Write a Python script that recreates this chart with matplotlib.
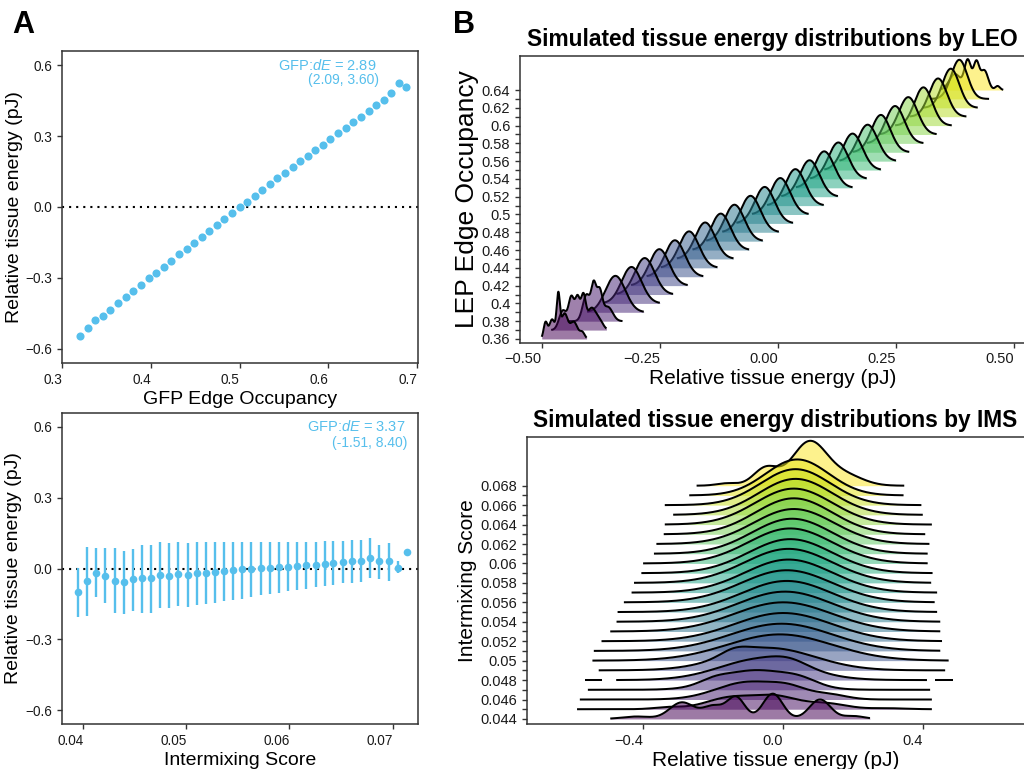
import numpy as np
import matplotlib
matplotlib.use("Agg")
import matplotlib.pyplot as plt

plt.rcParams['font.family'] = ['Liberation Sans', 'DejaVu Sans']
plt.rcParams['mathtext.fontset'] = 'custom'
plt.rcParams['mathtext.rm'] = 'Liberation Sans'
plt.rcParams['mathtext.it'] = 'Liberation Sans:italic'

# ---------------- Panel A (top): energy vs GFP edge occupancy ----------------
gfp_leo = [0.3199, 0.3289, 0.3375, 0.3461, 0.3544, 0.3630, 0.3716, 0.3802, 0.3889,
           0.3975, 0.4061, 0.4144, 0.4230, 0.4316, 0.4402, 0.4489, 0.4571, 0.4657,
           0.4744, 0.4826, 0.4912, 0.4999, 0.5085, 0.5171, 0.5254, 0.5340, 0.5426,
           0.5512, 0.5598, 0.5681, 0.5767, 0.5853, 0.5940, 0.6022, 0.6108, 0.6194,
           0.6281, 0.6367, 0.6453, 0.6536, 0.6622, 0.6708, 0.6794, 0.6877]
energy_leo = [-0.548, -0.511, -0.477, -0.463, -0.435, -0.407, -0.380, -0.356, -0.329,
              -0.302, -0.278, -0.253, -0.227, -0.200, -0.176, -0.151, -0.126, -0.100,
              -0.075, -0.051, -0.025, -0.001, 0.023, 0.048, 0.073, 0.097, 0.121,
              0.145, 0.171, 0.193, 0.217, 0.240, 0.264, 0.288, 0.312, 0.335,
              0.359, 0.383, 0.407, 0.431, 0.455, 0.483, 0.525, 0.510]
leo_effect = ["GFP:$\\mathit{dE}$ = 2.89", "(2.09, 3.60)"]

# ---------------- Panel A (bottom): energy vs intermixing score ----------------
gfp_ims = [0.03949, 0.04039, 0.04127, 0.04214, 0.04305, 0.04392, 0.04479, 0.04570,
           0.04657, 0.04745, 0.04835, 0.04923, 0.05013, 0.05101, 0.05188, 0.05279,
           0.05366, 0.05453, 0.05544, 0.05631, 0.05719, 0.05809, 0.05897, 0.05987,
           0.06075, 0.06162, 0.06253, 0.06340, 0.06427, 0.06518, 0.06606, 0.06693,
           0.06783, 0.06871, 0.06962, 0.07052, 0.07140]
energy_ims = [-0.100, -0.053, -0.018, -0.030, -0.051, -0.058, -0.046, -0.042, -0.042,
              -0.028, -0.030, -0.023, -0.028, -0.021, -0.017, -0.014, -0.010, -0.007,
              -0.004, -0.003, 0.001, 0.004, 0.006, 0.008, 0.011, 0.013, 0.015,
              0.020, 0.023, 0.028, 0.030, 0.032, 0.045, 0.031, 0.030, 0.004, 0.069]
energy_ims_lo = [-0.204, -0.201, -0.122, -0.145, -0.190, -0.191, -0.180, -0.187, -0.187,
                 -0.165, -0.165, -0.159, -0.163, -0.156, -0.150, -0.145, -0.139, -0.134,
                 -0.127, -0.120, -0.114, -0.108, -0.104, -0.096, -0.090, -0.085, -0.079,
                 -0.075, -0.068, -0.062, -0.062, -0.055, -0.041, -0.045, -0.052, -0.018, 0.069]
energy_ims_hi = [0.003, 0.092, 0.086, 0.087, 0.087, 0.076, 0.084, 0.101, 0.100,
                 0.110, 0.106, 0.113, 0.107, 0.113, 0.113, 0.113, 0.114, 0.114,
                 0.114, 0.114, 0.113, 0.113, 0.113, 0.113, 0.113, 0.113, 0.113,
                 0.115, 0.115, 0.118, 0.120, 0.121, 0.131, 0.100, 0.108, 0.032, 0.069]
ims_effect = ["GFP:$\\mathit{dE}$ = 3.37", "(-1.51, 8.40)"]

# ---------------- Panel B (top): ridgelines by LEO ----------------
leo_levels = [0.36, 0.37, 0.38, 0.39, 0.40, 0.41, 0.42, 0.43, 0.44, 0.45,
              0.46, 0.47, 0.48, 0.49, 0.50, 0.51, 0.52, 0.53, 0.54, 0.55,
              0.56, 0.57, 0.58, 0.59, 0.60, 0.61, 0.62, 0.63, 0.64]
leo_center = [-0.465, -0.423, -0.389, -0.344, -0.310, -0.282, -0.251, -0.218, -0.188, -0.154,
              -0.121, -0.092, -0.058, -0.028, 0.005, 0.037, 0.067, 0.098, 0.128, 0.158,
              0.190, 0.218, 0.248, 0.276, 0.308, 0.339, 0.366, 0.384, 0.405]
leo_spread = [0.021, 0.021, 0.021, 0.021, 0.021, 0.021, 0.021, 0.021, 0.021, 0.021,
              0.021, 0.021, 0.021, 0.021, 0.021, 0.021, 0.021, 0.021, 0.021, 0.021,
              0.021, 0.020, 0.020, 0.020, 0.019, 0.019, 0.018, 0.017, 0.016]
leo_height = [4.1, 4.1, 4.1, 4.1, 4.1, 4.1, 4.1, 4.1, 4.1, 4.1,
              4.1, 4.1, 4.1, 4.1, 4.1, 4.1, 4.1, 4.1, 4.1, 4.1,
              4.1, 4.2, 4.2, 4.2, 4.3, 4.3, 4.4, 4.4, 4.4]
leo_lo = [-0.500, -0.480, -0.445, -0.404, -0.370, -0.342, -0.311, -0.278, -0.248, -0.214,
          -0.181, -0.152, -0.118, -0.088, -0.055, -0.023, 0.007, 0.038, 0.068, 0.098,
          0.130, 0.158, 0.188, 0.216, 0.248, 0.279, 0.306, 0.324, 0.345]
leo_hi = [-0.405, -0.363, -0.329, -0.284, -0.250, -0.222, -0.191, -0.158, -0.128, -0.094,
          -0.061, -0.032, 0.002, 0.032, 0.065, 0.097, 0.127, 0.158, 0.188, 0.218,
          0.250, 0.278, 0.308, 0.336, 0.368, 0.399, 0.423, 0.447, 0.477]
# ridges whose density is multi-peaked: (centre, spread, height) bumps
leo_bumps = {
    0.36: [(-0.492, 0.004, 1.8), (-0.478, 0.006, 2.2), (-0.465, 0.0035, 4.6),
           (-0.452, 0.007, 2.8), (-0.432, 0.008, 1.9), (-0.414, 0.005, 0.7)],
    0.37: [(-0.455, 0.008, 2.2), (-0.437, 0.006, 3.6), (-0.424, 0.005, 3.4),
           (-0.412, 0.005, 3.6), (-0.395, 0.009, 2.4), (-0.378, 0.008, 1.0)],
    0.38: [(-0.405, 0.008, 3.0), (-0.390, 0.005, 3.6), (-0.378, 0.006, 3.3),
           (-0.360, 0.010, 1.6)],
    0.64: [(0.375, 0.012, 1.8), (0.402, 0.007, 3.3), (0.420, 0.006, 3.0),
           (0.437, 0.008, 2.2), (0.465, 0.005, 0.45)],
}

# ---------------- Panel B (bottom): ridgelines by IMS ----------------
ims_levels = [0.044, 0.045, 0.046, 0.047, 0.048, 0.049, 0.050, 0.051, 0.052,
              0.053, 0.054, 0.055, 0.056, 0.057, 0.058, 0.059, 0.060, 0.061,
              0.062, 0.063, 0.064, 0.065, 0.066, 0.067, 0.068]
ims_center = [0.0, -0.05, -0.06, -0.05, -0.04, -0.03, -0.01, -0.005, 0.0,
              0.0, 0.005, 0.01, 0.01, 0.015, 0.015, 0.02, 0.02, 0.025,
              0.03, 0.03, 0.03, 0.035, 0.035, 0.04, 0.075]
ims_spread = [0.1, 0.1, 0.1, 0.11, 0.12, 0.13, 0.15, 0.145, 0.14,
              0.14, 0.135, 0.13, 0.13, 0.125, 0.125, 0.12, 0.12, 0.115,
              0.115, 0.11, 0.11, 0.105, 0.10, 0.09, 0.05]
ims_height = [2.0, 2.0, 2.0, 2.2, 2.4, 2.6, 2.7, 2.8, 2.9,
              3.0, 3.1, 3.2, 3.3, 3.4, 3.5, 3.5, 3.6, 3.6,
              3.6, 3.7, 3.7, 3.7, 3.7, 3.7, 4.5]
ims_lo = [-0.495, -0.590, -0.582, -0.559, -0.478, -0.528, -0.546, -0.542, -0.520,
          -0.495, -0.477, -0.474, -0.456, -0.434, -0.427, -0.406, -0.401, -0.370,
          -0.363, -0.342, -0.339, -0.315, -0.339, -0.269, -0.248]
ims_hi = [0.248, 0.425, 0.425, 0.420, 0.411, 0.463, 0.473, 0.449, 0.454,
          0.449, 0.449, 0.440, 0.433, 0.440, 0.423, 0.427, 0.413, 0.413,
          0.418, 0.406, 0.425, 0.399, 0.395, 0.344, 0.346]
# detached tail pieces of a ridge
ims_pieces = {0.048: [(-0.567, -0.519), (0.433, 0.485)]}
ims_bumps = {
    0.044: [(-0.42, 0.04, 0.25), (-0.29, 0.035, 1.7), (-0.20, 0.03, 1.3),
            (-0.135, 0.025, 2.2), (-0.03, 0.028, 2.6), (0.105, 0.03, 2.0),
            (0.20, 0.03, 0.3)],
    0.045: [(-0.33, 0.04, 0.2), (-0.15, 0.07, 1.2), (-0.02, 0.06, 1.2),
            (0.12, 0.06, 0.6), (0.30, 0.05, 0.1)],
    0.046: [(-0.10, 0.09, 1.8), (0.02, 0.05, 0.8), (0.13, 0.05, 0.5)],
    0.047: [(-0.20, 0.04, 0.4), (-0.08, 0.10, 2.0), (0.05, 0.05, 0.6)],
    0.048: [(-0.06, 0.12, 2.2), (0.02, 0.05, 0.5)],
    0.049: [(-0.04, 0.13, 2.3), (-0.14, 0.04, 0.6)],
    0.068: [(0.075, 0.05, 4.5), (-0.05, 0.035, 1.8), (0.18, 0.05, 1.0),
            (-0.16, 0.03, 0.25)],
}

RIDGE_LINE = 1.45
RIDGE_ALPHA = 0.52
POINT_COLOR = '#56BFEC'
SPINE_COLOR = '#333333'


def ridge_profile(x, comps):
    h = np.zeros_like(x)
    for mu, sd, amp in comps:
        h += amp * np.exp(-0.5 * ((x - mu) / sd) ** 2)
    return h


def draw_ridges(ax, levels, center, spread, height, lo, hi, bumps, step, pieces=None):
    n = len(levels)
    cmap = plt.get_cmap('viridis')
    for i in range(n - 1, -1, -1):
        lev = levels[i]
        comps = bumps.get(lev, [(center[i], spread[i], height[i])])
        segs = [(lo[i], hi[i])]
        if pieces and lev in pieces:
            segs += pieces[lev]
        col = cmap(i / (n - 1))
        z = 2 * (n - i)
        for a, b in segs:
            x = np.linspace(a, b, 600)
            y = lev + ridge_profile(x, comps) * step
            ax.fill_between(x, lev, y, color=col, alpha=RIDGE_ALPHA, lw=0, zorder=z)
            ax.plot(x, y, color='black', lw=RIDGE_LINE, zorder=z + 1,
                    solid_capstyle='butt')


def style_axes(ax, tick_size):
    for s in ax.spines.values():
        s.set_color(SPINE_COLOR)
        s.set_linewidth(1.1)
    ax.tick_params(axis='both', direction='out', length=3.5, width=1.0,
                   color=SPINE_COLOR, labelsize=tick_size, labelcolor='#1a1a1a')


def right_align_xlabels(ax):
    for lab in ax.get_xticklabels():
        lab.set_horizontalalignment('right')


fig = plt.figure(figsize=(10.24, 7.69), dpi=100)
W, H = 1024.0, 769.0


def add_axes(left, top, right, bottom):
    return fig.add_axes([left / W, 1 - bottom / H, (right - left) / W, (bottom - top) / H])


# ---- A top
ax1 = add_axes(62, 51, 418.3, 363)
ax1.axhline(0, color='black', ls=(0, (1, 2.4)), lw=1.5, zorder=1)
ax1.scatter(gfp_leo, energy_leo, s=34, color=POINT_COLOR, lw=0, zorder=3)
ax1.set_xlim(0.3, 0.7012)
ax1.set_ylim(-0.661, 0.661)
ax1.set_xticks([0.3, 0.4, 0.5, 0.6, 0.7])
ax1.set_xticklabels(['0.3', '0.4', '0.5', '0.6', '0.7'])
ax1.set_yticks([-0.6, -0.3, 0.0, 0.3, 0.6])
ax1.set_yticklabels(['\u22120.6', '\u22120.3', '0.0', '0.3', '0.6'])
style_axes(ax1, 9.8)
right_align_xlabels(ax1)
ax1.set_xlabel('GFP Edge Occupancy', fontsize=14, labelpad=3)
ax1.set_ylabel('Relative tissue energy (pJ)', fontsize=14, labelpad=2)
ax1.text(0.883, 0.955, leo_effect[0], transform=ax1.transAxes, ha='right', va='center',
         color=POINT_COLOR, fontsize=10.5)
ax1.text(0.891, 0.907, leo_effect[1], transform=ax1.transAxes, ha='right', va='center',
         color=POINT_COLOR, fontsize=10)

# ---- A bottom
ax2 = add_axes(61.7, 412.7, 418.3, 724.3)
ax2.axhline(0, color='black', ls=(0, (1, 2.4)), lw=1.5, zorder=1)
e_lo = np.array(energy_ims) - np.array(energy_ims_lo)
e_hi = np.array(energy_ims_hi) - np.array(energy_ims)
ax2.errorbar(gfp_ims, energy_ims, yerr=[e_lo, e_hi], fmt='o', color=POINT_COLOR,
             ms=5.5, mew=0, elinewidth=1.7, capsize=0, zorder=3)
ax2.set_xlim(0.0379, 0.0725)
ax2.set_ylim(-0.659, 0.659)
ax2.set_xticks([0.04, 0.05, 0.06, 0.07])
ax2.set_xticklabels(['0.04', '0.05', '0.06', '0.07'])
ax2.set_yticks([-0.6, -0.3, 0.0, 0.3, 0.6])
ax2.set_yticklabels(['\u22120.6', '\u22120.3', '0.0', '0.3', '0.6'])
style_axes(ax2, 9.8)
right_align_xlabels(ax2)
ax2.set_xlabel('Intermixing Score', fontsize=14, labelpad=3)
ax2.set_ylabel('Relative tissue energy (pJ)', fontsize=14, labelpad=2)
ax2.text(0.963, 0.955, ims_effect[0], transform=ax2.transAxes, ha='right', va='center',
         color=POINT_COLOR, fontsize=10.5)
ax2.text(0.969, 0.904, ims_effect[1], transform=ax2.transAxes, ha='right', va='center',
         color=POINT_COLOR, fontsize=10)

# ---- B top
ax3 = add_axes(520, 55.7, 1024.5, 342.7)
draw_ridges(ax3, leo_levels, leo_center, leo_spread, leo_height, leo_lo, leo_hi,
            leo_bumps, 0.01)
ax3.set_xlim(-0.546, 0.522)
ax3.set_ylim(0.3558, 0.6786)
ax3.set_xticks([-0.5, -0.25, 0.0, 0.25, 0.5])
ax3.set_xticklabels(['\u22120.50', '\u22120.25', '0.00', '0.25', '0.50'])
ax3.set_yticks(leo_levels[::2])
ax3.set_yticklabels(['0.36', '0.38', '0.4', '0.42', '0.44', '0.46', '0.48', '0.5',
                     '0.52', '0.54', '0.56', '0.58', '0.6', '0.62', '0.64'])
ax3.set_yticks(leo_levels[1::2], minor=True)
style_axes(ax3, 10.5)
ax3.tick_params(axis='y', which='minor', length=3.5, width=1.0, color=SPINE_COLOR)
right_align_xlabels(ax3)
ax3.set_xlabel('Relative tissue energy (pJ)', fontsize=15, labelpad=2)
ax3.set_ylabel('LEP Edge Occupancy', fontsize=19, labelpad=2)
ax3.set_title('Simulated tissue energy distributions by LEO', fontsize=16.4,
              fontweight='bold', pad=7)

# ---- B bottom
ax4 = add_axes(526.7, 436.7, 1024.5, 724)
draw_ridges(ax4, ims_levels, ims_center, ims_spread, ims_height, ims_lo, ims_hi,
            ims_bumps, 0.001, pieces=ims_pieces)
ax4.set_xlim(-0.734, 0.69)
ax4.set_ylim(0.04348, 0.07304)
ax4.set_xticks([-0.4, 0.0, 0.4])
ax4.set_xticklabels(['\u22120.4', '0.0', '0.4'])
ax4.set_yticks(ims_levels[::2])
ax4.set_yticklabels(['0.044', '0.046', '0.048', '0.05', '0.052', '0.054', '0.056',
                     '0.058', '0.06', '0.062', '0.064', '0.066', '0.068'])
ax4.set_yticks(ims_levels[1::2], minor=True)
style_axes(ax4, 10.5)
ax4.tick_params(axis='y', which='minor', length=3.5, width=1.0, color=SPINE_COLOR)
right_align_xlabels(ax4)
ax4.set_xlabel('Relative tissue energy (pJ)', fontsize=15, labelpad=2)
ax4.set_ylabel('Intermixing Score', fontsize=15, labelpad=2)
ax4.set_title('Simulated tissue energy distributions by IMS', fontsize=16.4,
              fontweight='bold', pad=7)

# panel letters
fig.text(12 / W, 1 - 33 / H, 'A', fontsize=22, fontweight='bold', va='baseline')
fig.text(453 / W, 1 - 33 / H, 'B', fontsize=22, fontweight='bold', va='baseline')

fig.savefig('out.png', dpi=100)
